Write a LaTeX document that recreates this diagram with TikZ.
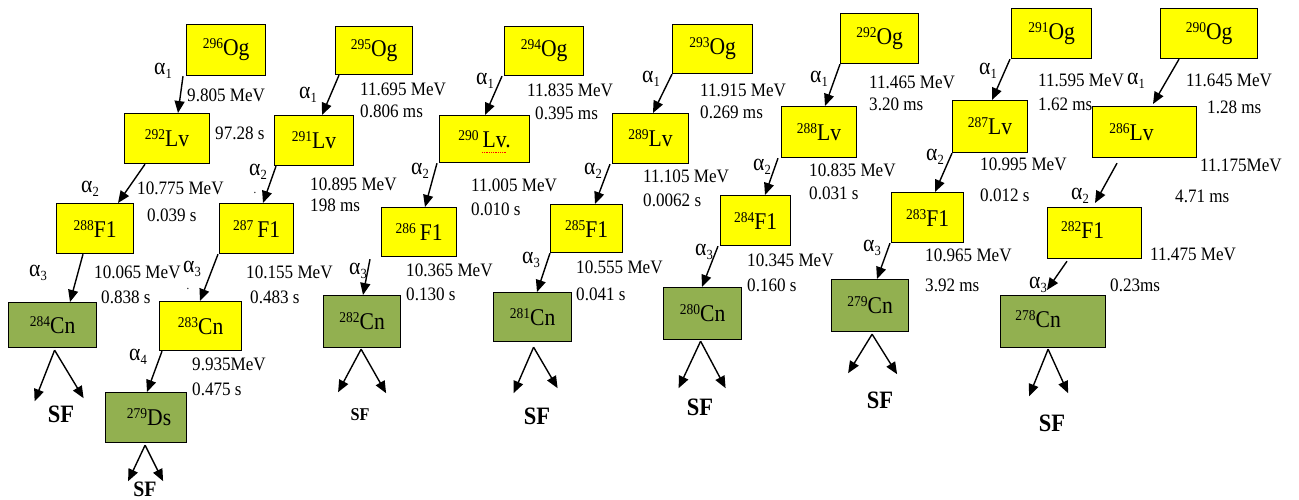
\documentclass[tikz,border=0pt]{standalone}
\usepackage{fontspec}
\setmainfont{Liberation Serif}[FakeStretch=0.9]
\usetikzlibrary{arrows.meta}
\definecolor{yel}{RGB}{255,255,0}
\definecolor{grn}{RGB}{146,176,80}
\newcommand\nuc[2]{\raisebox{7pt}{\fontsize{15}{15}\selectfont #1}#2}
\newcommand\alp[1]{α\raisebox{-4pt}{\fontsize{14}{14}\selectfont #1}}
\begin{document}
\begin{tikzpicture}[x=1pt,y=-1pt,
  box/.style={draw=black, line width=1.2pt, inner sep=0pt, anchor=north west, font=\fontsize{24}{26}\selectfont},
  ybox/.style={box, fill=yel},
  gbox/.style={box, fill=grn},
  lab/.style={anchor=west, inner sep=0pt, font=\fontsize{19}{21}\selectfont},
  alab/.style={inner sep=0pt, font=\fontsize{24}{26}\selectfont},
  arr/.style={line width=1.4pt, -{Triangle[length=12pt,width=10pt]}},
  sf/.style={inner sep=0pt, font=\bfseries\fontsize{25}{27}\selectfont},
  dotl/.style={inner sep=0pt, font=\fontsize{12}{12}\selectfont}]
\useasboundingbox (0,0) rectangle (1299,500);
\fill[white] (0,0) rectangle (1299,500);

% ---------- chain 1 ----------
\node[ybox, minimum width=79pt, minimum height=51pt] (og296) at (186,24) {\nuc{296}{Og}};
\node[ybox, minimum width=85pt, minimum height=50pt] (lv292) at (124,113) {\nuc{292}{Lv}};
\node[ybox, minimum width=77pt, minimum height=50pt] (fl288) at (56,203) {\nuc{288}{F1}};
\node[gbox, minimum width=88pt, minimum height=45pt] (cn284) at (8,302) {\nuc{284}{Cn}};
\draw[arr] ([xshift=-3pt]og296.south west) -- ([xshift=54pt]lv292.north west);
\draw[arr] ([xshift=21pt]lv292.south west) -- ([xshift=62pt]fl288.north west);
\draw[arr] ([xshift=27pt]fl288.south west) -- ([xshift=62pt]cn284.north west);
\coordinate (s1) at ([xshift=2pt,yshift=-2pt]cn284.south);
\draw[arr] (s1) -- ++(-20,51);
\draw[arr] (s1) -- ++(29,48);
\node[sf] (sf1) at (61,414) {SF};
\node[alab] (a11) at (163,71) {\alp{1}};
\node[lab] (e11) at (187,95) {9.805 MeV};
\node[lab] (t11) at (215,133) {97.28 s};
\node[alab] (a12) at (90,189) {\alp{2}};
\node[lab] (e12) at (137,188) {10.775 MeV};
\node[lab] (t12) at (147,215) {0.039 s};
\node[alab] (a13) at (38,273) {\alp{3}};
\node[lab] (e13) at (94,272) {10.065 MeV};
\node[lab] (t13) at (101,297) {0.838 s};

% ---------- chain 2 ----------
\node[ybox, minimum width=77pt, minimum height=48pt] (og295) at (335,26) {\nuc{295}{Og}};
\node[ybox, minimum width=79pt, minimum height=50pt] (lv291) at (274,115) {\nuc{291}{Lv}};
\node[ybox, minimum width=74pt, minimum height=50pt] (fl287) at (219,203) {\nuc{287}{\,F1}};
\node[ybox, minimum width=82pt, minimum height=49pt] (cn283) at (159,301) {\nuc{283}{Cn}};
\node[gbox, minimum width=81pt, minimum height=50pt] (ds279) at (105,392) {\hspace*{6pt}\nuc{279}{Ds}};
\draw[arr] ([xshift=4pt]og295.south west) -- ([xshift=48pt]lv291.north west);
\draw[arr] ([xshift=2pt]lv291.south west) -- ([xshift=44pt]fl287.north west);
\draw[arr] ([xshift=-1pt]fl287.south west) -- ([xshift=41pt]cn283.north west);
\draw[arr] ([xshift=3pt]cn283.south west) -- ([xshift=42pt]ds279.north west);
\coordinate (s2) at ([xshift=-1pt,yshift=-2pt]ds279.south);
\draw[arr] (s2) -- ++(-17,36);
\draw[arr] (s2) -- ++(18,36);
\node[sf, font=\bfseries\fontsize{22}{24}\selectfont] (sf2) at (145,489) {SF};
\node[alab] (a21) at (308,95) {\alp{1}};
\node[lab] (e21) at (360,89) {11.695 MeV};
\node[lab] (t21) at (360,111) {0.806 ms};
\node[alab] (a22) at (258,172) {\alp{2}};
\node[dotl] (d21) at (255,193) {.};
\node[lab] (e22) at (310,184) {10.895 MeV};
\node[lab] (t22) at (310,205) {198 ms};
\node[alab] (a23) at (192,269) {\alp{3}};
\node[dotl] (d22) at (188,289) {.};
\node[lab] (e23) at (246,272) {10.155 MeV};
\node[lab] (t23) at (250,297) {0.483 s};
\node[alab] (a24) at (138,357) {\alp{4}};
\node[lab] (e24) at (192,364) {9.935MeV};
\node[lab] (t24) at (192,389) {0.475 s};

% ---------- chain 3 ----------
\node[ybox, minimum width=79pt, minimum height=49pt] (og294) at (504,26) {\nuc{294}{Og}};
\node[ybox, minimum width=90pt, minimum height=47pt] (lv290) at (439,115) {\nuc{290}{\,Lv.}};
\draw[red, densely dotted, line width=0.8pt] (482,152) -- (507,152);
\node[ybox, minimum width=75pt, minimum height=49pt] (fl286) at (381,207) {\nuc{286}{\,F1}};
\node[gbox, minimum width=77pt, minimum height=52pt] (cn282) at (323,295) {\nuc{282}{Cn}};
\draw[arr] ([xshift=-2pt]og294.south west) -- ([xshift=46pt]lv290.north west);
\draw[arr] ([xshift=-2pt]lv290.south west) -- ([xshift=44pt]fl286.north west);
\draw[arr] ([xshift=-11pt,yshift=-2pt]fl286.south west) -- ([xshift=40pt]cn282.north west);
\coordinate (s3) at ([xshift=-1pt,yshift=-1pt]cn282.south);
\draw[arr] (s3) -- ++(-23,43);
\draw[arr] (s3) -- ++(25,44);
\node[sf, font=\bfseries\fontsize{18}{20}\selectfont] (sf3) at (360,415) {SF};
\node[alab] (a31) at (485,81) {\alp{1}};
\node[lab] (e31) at (527,90) {11.835 MeV};
\node[lab] (t31) at (535,113) {0.395 ms};
\node[alab] (a32) at (420,171) {\alp{2}};
\node[lab] (e32) at (471,185) {11.005 MeV};
\node[lab] (t32) at (471,209) {0.010 s};
\node[alab] (a33) at (358,271) {\alp{3}};
\node[lab] (e33) at (406,270) {10.365 MeV};
\node[lab] (t33) at (406,294) {0.130 s};

% ---------- chain 4 ----------
\node[ybox, minimum width=80pt, minimum height=49pt] (og293) at (672,24) {\nuc{293}{Og}};
\node[ybox, minimum width=76pt, minimum height=50pt] (lv289) at (612,113) {\nuc{289}{Lv}};
\node[ybox, minimum width=72pt, minimum height=48pt] (fl285) at (550,204) {\nuc{285}{F1}};
\node[gbox, minimum width=78pt, minimum height=49pt] (cn281) at (493,292) {\nuc{281}{Cn}};
\draw[arr] (og293.south west) -- ([xshift=41pt]lv289.north west);
\draw[arr] ([xshift=-2pt]lv289.south west) -- ([xshift=45pt]fl285.north west);
\draw[arr] (fl285.south west) -- ([xshift=44pt]cn281.north west);
\coordinate (s4) at ([xshift=1pt,yshift=-5pt]cn281.south);
\draw[arr] (s4) -- ++(-20,46);
\draw[arr] (s4) -- ++(24,41);
\node[sf] (sf4) at (537,416) {SF};
\node[alab] (a41) at (651,79) {\alp{1}};
\node[lab] (e41) at (700,90) {11.915 MeV};
\node[lab] (t41) at (700,112) {0.269 ms};
\node[alab] (a42) at (593,171) {\alp{2}};
\node[lab] (e42) at (643,176) {11.105 MeV};
\node[lab] (t42) at (643,200) {0.0062 s};
\node[alab] (a43) at (531,260) {\alp{3}};
\node[lab] (e43) at (576,267) {10.555 MeV};
\node[lab] (t43) at (576,294) {0.041 s};

% ---------- chain 5 ----------
\node[ybox, minimum width=78pt, minimum height=50pt] (og292) at (840,13) {\nuc{292}{Og}};
\node[ybox, minimum width=75pt, minimum height=51pt] (lv288) at (781,106) {\nuc{288}{Lv}};
\node[ybox, minimum width=70pt, minimum height=50pt] (fl284) at (720,195) {\nuc{284}{F1}};
\node[gbox, minimum width=78pt, minimum height=52pt] (cn280) at (663,287) {\nuc{280}{Cn}};
\draw[arr] (og292.south west) -- ([xshift=44pt]lv288.north west);
\draw[arr] ([xshift=-3pt]lv288.south west) -- ([xshift=45pt]fl284.north west);
\draw[arr] ([xshift=-2pt]fl284.south west) -- ([xshift=39pt]cn280.north west);
\coordinate (s5) at ([xshift=-2pt,yshift=-1pt]cn280.south);
\draw[arr] (s5) -- ++(-22,47);
\draw[arr] (s5) -- ++(25,47);
\node[sf] (sf5) at (700,407) {SF};
\node[alab] (a51) at (819,79) {\alp{1}};
\node[lab] (e51) at (869,82) {11.465 MeV};
\node[lab] (t51) at (869,104) {3.20 ms};
\node[alab] (a52) at (762,167) {\alp{2}};
\node[lab] (e52) at (809,170) {10.835 MeV};
\node[lab] (t52) at (809,193) {0.031 s};
\node[alab] (a53) at (704,252) {\alp{3}};
\node[lab] (e53) at (747,260) {10.345 MeV};
\node[lab] (t53) at (747,285) {0.160 s};

% ---------- chain 6 ----------
\node[ybox, minimum width=80pt, minimum height=50pt] (og291) at (1011,8) {\nuc{291}{Og}};
\node[ybox, minimum width=75pt, minimum height=52pt] (lv287) at (952,100) {\nuc{287}{Lv}};
\node[ybox, minimum width=72pt, minimum height=50pt] (fl283) at (891,192) {\nuc{283}{F1}};
\node[gbox, minimum width=77pt, minimum height=52pt] (cn279) at (831,279) {\nuc{279}{Cn}};
\draw[arr] ([xshift=-1pt]og291.south west) -- ([xshift=40pt]lv287.north west);
\draw[arr] (lv287.south west) -- ([xshift=44pt]fl283.north west);
\draw[arr] ([xshift=-1pt]fl283.south west) -- ([xshift=46pt]cn279.north west);
\coordinate (s6) at ([xshift=2pt,yshift=-2pt]cn279.south);
\draw[arr] (s6) -- ++(-24,39);
\draw[arr] (s6) -- ++(25,40);
\node[sf] (sf6) at (880,400) {SF};
\node[alab] (a61) at (988,71) {\alp{1}};
\node[lab] (e61) at (1038,80) {11.595 MeV};
\node[lab] (t61) at (1038,104) {1.62 ms};
\node[alab] (a62) at (935,157) {\alp{2}};
\node[lab] (e62) at (980,164) {10.995 MeV};
\node[lab] (t62) at (980,195) {0.012 s};
\node[alab] (a63) at (872,248) {\alp{3}};
\node[lab] (e63) at (925,255) {10.965 MeV};
\node[lab] (t63) at (925,285) {3.92 ms};

% ---------- chain 7 ----------
\node[ybox, minimum width=97pt, minimum height=50pt] (og290) at (1160,8) {\nuc{290}{Og}};
\node[ybox, minimum width=104pt, minimum height=51pt] (lv286) at (1092,106) {\nuc{286}{Lv}\hspace*{26pt}};
\node[ybox, minimum width=94pt, minimum height=51pt] (fl282) at (1047,207) {\raisebox{6pt}{\nuc{282}{F1}}\hspace*{24pt}};
\node[gbox, minimum width=105pt, minimum height=52pt] (cn278) at (1000,295) {\raisebox{6pt}{\nuc{278}{Cn}}\hspace*{30pt}};
\draw[arr] ([xshift=19pt]og290.south west) -- ([xshift=61pt,yshift=2pt]lv286.north west);
\draw[arr] ([xshift=25pt,yshift=-5pt]lv286.south west) -- ([xshift=48pt,yshift=4pt]fl282.north west);
\draw[arr] ([xshift=20pt,yshift=-2pt]fl282.south west) -- ([xshift=47pt,yshift=5pt]cn278.north west);
\coordinate (s7) at ([xshift=-5pt,yshift=-1pt]cn278.south);
\draw[arr] (s7) -- ++(-19,47);
\draw[arr] (s7) -- ++(20,44);
\node[sf] (sf7) at (1052,423) {SF};
\node[alab] (a71) at (1136,81) {\alp{1}};
\node[lab] (e71) at (1186,80) {11.645 MeV};
\node[lab] (t71) at (1207,107) {1.28 ms};
\node[alab] (a72) at (1080,196) {\alp{2}};
\node[lab] (e72) at (1200,165) {11.175MeV};
\node[lab] (t72) at (1175,196) {4.71 ms};
\node[alab] (a73) at (1038,285) {\alp{3}};
\node[lab] (e73) at (1150,254) {11.475 MeV};
\node[lab] (t73) at (1110,285) {0.23ms};
\end{tikzpicture}
\end{document}
